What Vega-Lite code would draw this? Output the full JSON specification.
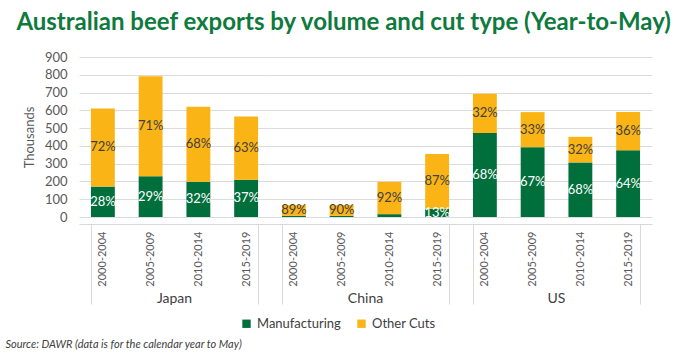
{
  "$schema": "https://vega.github.io/schema/vega-lite/v6.json",
  "background": "white",
  "padding": {"left": 5, "top": 11, "right": 5, "bottom": 4},
  "title": {
    "text": "Australian beef exports by volume and cut type (Year-to-May)",
    "anchor": "start", "frame": "bounds", "dx": 11,
    "font": "Lato", "fontSize": 24, "fontWeight": "bold", "color": "#0e7a3d", "offset": 16
  },
  "resolve": {"legend": {"color": "independent"}},
  "vconcat": [
    {
      "data": {"values": [
        {"country": "Japan", "period": "2000-2004", "cut": "Manufacturing", "value": 171, "label": "28%"},
        {"country": "Japan", "period": "2000-2004", "cut": "Other Cuts", "value": 440, "label": "72%"},
        {"country": "Japan", "period": "2005-2009", "cut": "Manufacturing", "value": 229, "label": "29%"},
        {"country": "Japan", "period": "2005-2009", "cut": "Other Cuts", "value": 563, "label": "71%"},
        {"country": "Japan", "period": "2010-2014", "cut": "Manufacturing", "value": 198, "label": "32%"},
        {"country": "Japan", "period": "2010-2014", "cut": "Other Cuts", "value": 422, "label": "68%"},
        {"country": "Japan", "period": "2015-2019", "cut": "Manufacturing", "value": 210, "label": "37%"},
        {"country": "Japan", "period": "2015-2019", "cut": "Other Cuts", "value": 356, "label": "63%"},
        {"country": "China", "period": "2000-2004", "cut": "Manufacturing", "value": 7, "label": ""},
        {"country": "China", "period": "2000-2004", "cut": "Other Cuts", "value": 60, "label": "89%"},
        {"country": "China", "period": "2005-2009", "cut": "Manufacturing", "value": 7, "label": ""},
        {"country": "China", "period": "2005-2009", "cut": "Other Cuts", "value": 60, "label": "90%"},
        {"country": "China", "period": "2010-2014", "cut": "Manufacturing", "value": 16, "label": ""},
        {"country": "China", "period": "2010-2014", "cut": "Other Cuts", "value": 182, "label": "92%"},
        {"country": "China", "period": "2015-2019", "cut": "Manufacturing", "value": 46, "label": "13%"},
        {"country": "China", "period": "2015-2019", "cut": "Other Cuts", "value": 308, "label": "87%"},
        {"country": "US", "period": "2000-2004", "cut": "Manufacturing", "value": 472, "label": "68%"},
        {"country": "US", "period": "2000-2004", "cut": "Other Cuts", "value": 221, "label": "32%"},
        {"country": "US", "period": "2005-2009", "cut": "Manufacturing", "value": 393, "label": "67%"},
        {"country": "US", "period": "2005-2009", "cut": "Other Cuts", "value": 197, "label": "33%"},
        {"country": "US", "period": "2010-2014", "cut": "Manufacturing", "value": 307, "label": "68%"},
        {"country": "US", "period": "2010-2014", "cut": "Other Cuts", "value": 144, "label": "32%"},
        {"country": "US", "period": "2015-2019", "cut": "Manufacturing", "value": 376, "label": "64%"},
        {"country": "US", "period": "2015-2019", "cut": "Other Cuts", "value": 214, "label": "36%"}
      ]},
      "title": {
        "text": "Source: DAWR (data is for the calendar year to May)",
        "orient": "bottom", "anchor": "start", "frame": "bounds", "dx": -18,
        "font": "Lato", "fontSize": 11, "fontStyle": "italic", "fontWeight": "normal",
        "color": "#404040", "offset": 8
      },
      "facet": {
        "column": {
          "field": "country", "type": "nominal", "sort": ["Japan", "China", "US"],
          "title": null,
          "header": {
            "labelOrient": "bottom",
            "labelFont": "Lato", "labelFontSize": 14, "labelColor": "#404040", "labelPadding": -13
          }
        }
      },
      "spacing": 0,
      "spec": {
        "width": 191,
        "height": 160,
        "encoding": {
          "x": {
            "field": "period", "type": "nominal",
            "scale": {"paddingInner": 0.5, "paddingOuter": 0.25},
            "axis": {
              "title": null, "labelAngle": -90, "domainColor": "#d9d9d9",
              "ticks": true, "tickBand": "extent", "tickSize": 80, "tickColor": "#d9d9d9",
              "tickOpacity": {"condition": {"test": "datum.value === '2000-2004' || datum.value === '2005-2009' || datum.value === '2010-2014'", "value": 0}, "value": 1},
              "labelFont": "Lato", "labelFontSize": 11, "labelColor": "#595959", "labelPadding": -73
            }
          },
          "y": {
            "field": "value", "type": "quantitative", "stack": "zero",
            "scale": {"domain": [0, 900]},
            "axis": {
              "title": "Thousands", "values": [0, 100, 200, 300, 400, 500, 600, 700, 800, 900],
              "domain": false, "ticks": false, "gridColor": "#dcdcdc",
              "labelFont": "Lato", "labelFontSize": 13, "labelColor": "#595959", "labelPadding": 12,
              "titleFont": "Lato", "titleFontSize": 13, "titleFontWeight": "normal", "titleColor": "#595959",
              "titlePadding": 8
            }
          },
          "order": {"field": "cut", "sort": "ascending"}
        },
        "layer": [
          {
            "mark": {"type": "bar"},
            "encoding": {
              "color": {
                "field": "cut", "type": "nominal",
                "scale": {"domain": ["Manufacturing", "Other Cuts"], "range": ["#006f3b", "#fbb416"]},
                "legend": {
                  "title": null, "orient": "bottom", "direction": "horizontal", "symbolType": "square",
                  "symbolSize": 70, "labelFont": "Lato", "labelFontSize": 13, "labelColor": "#404040",
                  "columnPadding": 14, "offset": 11
                }
              }
            }
          },
          {
            "mark": {"type": "text", "font": "Lato", "fontSize": 13},
            "encoding": {
              "y": {"field": "value", "type": "quantitative", "stack": "zero", "bandPosition": 0.5},
              "detail": {"field": "cut"},
              "text": {"field": "label"},
              "color": {"condition": {"test": "datum.cut === 'Manufacturing'", "value": "white"}, "value": "#404040"}
            }
          }
        ]
      }
    }
  ],
  "config": {
    "view": {"stroke": null},
    "legend": {"layout": {"bottom": {"anchor": "middle"}}}
  }
}
